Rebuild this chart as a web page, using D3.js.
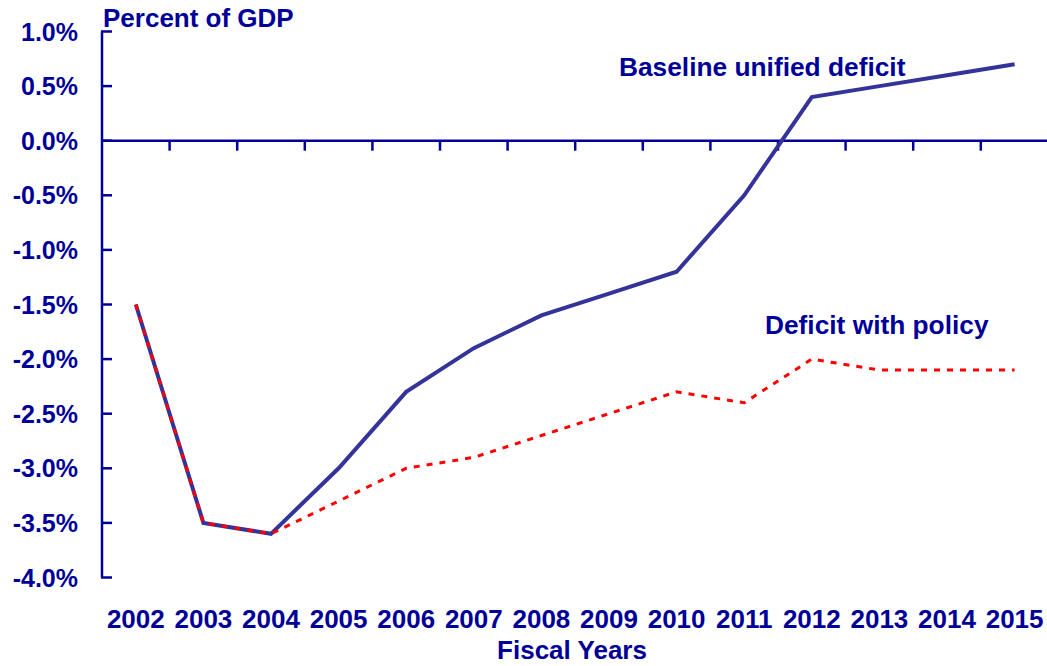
<!DOCTYPE html>
<html>
<head>
<meta charset="utf-8">
<script src="https://cdn.jsdelivr.net/npm/d3@7"></script>
<style>
  html, body { margin: 0; padding: 0; background: #fff; }
  svg { display: block; }
  text { font-family: "Liberation Sans", Arial, sans-serif; font-weight: bold; fill: #000099; }
</style>
</head>
<body>
<script>
const years = ["2002","2003","2004","2005","2006","2007","2008","2009","2010","2011","2012","2013","2014","2015"];
const baselineDeficit = [-1.5, -3.5, -3.6, -3.0, -2.3, -1.9, -1.6, -1.4, -1.2, -0.5, 0.4, 0.5, 0.6, 0.7];
const policyDeficit   = [-1.5, -3.5, -3.6, -3.3, -3.0, -2.9, -2.7, -2.5, -2.3, -2.4, -2.0, -2.1, -2.1, -2.1];
const yTicks = [1.0, 0.5, 0.0, -0.5, -1.0, -1.5, -2.0, -2.5, -3.0, -3.5, -4.0];

const W = 1047, H = 666;
const axisColor = "#000099";
const svg = d3.select("body").append("svg").attr("width", W).attr("height", H);

const x = d3.scaleBand().domain(years).range([102, 102 + 14 * 67.6]).paddingInner(0).paddingOuter(0);
const y = d3.scaleLinear().domain([-4, 1]).range([577.5, 31.5]);
const cx = d => x(d) + x.bandwidth() / 2;

// Y axis line
svg.append("line").attr("x1", 102).attr("x2", 102).attr("y1", y(1)).attr("y2", y(-4))
  .attr("stroke", axisColor).attr("stroke-width", 2.5);
// Y ticks (inward)
svg.selectAll(".ytick").data(yTicks).enter().append("line")
  .attr("x1", 101).attr("x2", 112).attr("y1", d => y(d)).attr("y2", d => y(d))
  .attr("stroke", axisColor).attr("stroke-width", 2.5);
svg.selectAll(".ylab").data(yTicks).enter().append("text")
  .attr("x", 78).attr("y", d => y(d) + 9).attr("text-anchor", "end")
  .attr("font-size", 25).text(d => d.toFixed(1) + "%");

// Zero line with ticks
svg.append("line").attr("x1", 102).attr("x2", W).attr("y1", y(0)).attr("y2", y(0))
  .attr("stroke", axisColor).attr("stroke-width", 2.5);
svg.selectAll(".xtick").data(years.slice(1)).enter().append("line")
  .attr("x1", d => x(d)).attr("x2", d => x(d)).attr("y1", y(0)).attr("y2", y(0) + 10)
  .attr("stroke", axisColor).attr("stroke-width", 2.5);

// X labels
svg.selectAll(".xlab").data(years).enter().append("text")
  .attr("x", d => cx(d)).attr("y", 628).attr("text-anchor", "middle")
  .attr("font-size", 26).text(d => d);

svg.append("text").attr("x", 572).attr("y", 659).attr("text-anchor", "middle")
  .attr("font-size", 26).text("Fiscal Years");
svg.append("text").attr("x", 103).attr("y", 27).attr("font-size", 26).text("Percent of GDP");

// Lines
const line = d3.line().x((d, i) => cx(years[i])).y(d => y(d));
svg.append("path").datum(baselineDeficit).attr("d", line)
  .attr("fill", "none").attr("stroke", "#333399").attr("stroke-width", 4).attr("stroke-linejoin", "miter");
svg.append("path").datum(policyDeficit).attr("d", line)
  .attr("fill", "none").attr("stroke", "#ff0000").attr("stroke-width", 3).attr("stroke-dasharray", "6,7");

svg.append("text").attr("x", 619).attr("y", 76).attr("font-size", 26.3).text("Baseline unified deficit");
svg.append("text").attr("x", 765).attr("y", 334).attr("font-size", 26.3).text("Deficit with policy");
</script>
</body>
</html>
